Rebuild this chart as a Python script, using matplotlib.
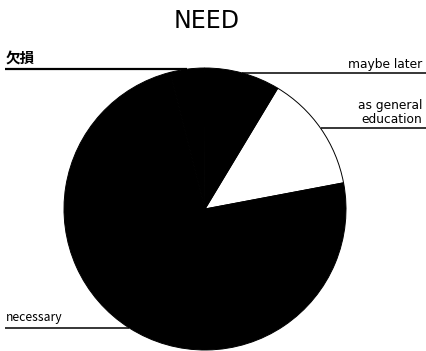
import numpy as np
import matplotlib
matplotlib.use("Agg")
import matplotlib.pyplot as plt

# Survey answers (percent), counter-clockwise from the start angle
labels = ["as general\neducation", "maybe later", "欠損", "necessary"]
values = [13.4, 8.7, 3.9, 74.0]
colors = ["white", "black", "black", "black"]
sides = ["right", "right", "left", "left"]
title = "NEED"

W, H = 426, 351
fig = plt.figure(figsize=(W / 100, H / 100), dpi=100)
ax = fig.add_axes([0, 0, 1, 1])

cx, cy, r = 205, H - 209, 141
start = 10.7

wedges, _ = ax.pie(values, colors=colors, startangle=start, counterclock=True,
                   center=(cx, cy), radius=r,
                   wedgeprops=dict(edgecolor="black", linewidth=0.7))

ax.set_xlim(0, W)
ax.set_ylim(0, H)
ax.set_aspect("equal")
ax.axis("off")

# leader lines: horizontal from the slice midpoint on the rim to the page edge
for w, lab, side in zip(wedges, labels, sides):
    mid = np.deg2rad((w.theta1 + w.theta2) / 2)
    px, py = cx + r * np.cos(mid), cy + r * np.sin(mid)
    is_cjk = any(ord(c) > 0x3000 for c in lab)
    lw = 1.6 if is_cjk else 1.1
    if side == "left":
        ax.plot([5, px], [py, py], color="black", lw=lw, solid_capstyle="butt")
        ax.text(6, py + 4, lab, ha="left", va="bottom",
                fontsize=10.5 if is_cjk else 8.8,
                family=["Noto Sans CJK JP", "DejaVu Sans"],
                fontweight="bold" if is_cjk else "normal")
    else:
        ax.plot([px, W], [py, py], color="black", lw=lw, solid_capstyle="butt")
        ax.text(W - 4, py + 2, lab, ha="right", va="bottom", fontsize=8.8,
                family="DejaVu Sans", multialignment="right", linespacing=1.1)

ax.text(207, H - 21, title, ha="center", va="center", fontsize=17,
        family="DejaVu Sans")

fig.savefig("out.png", dpi=100, facecolor="white")
